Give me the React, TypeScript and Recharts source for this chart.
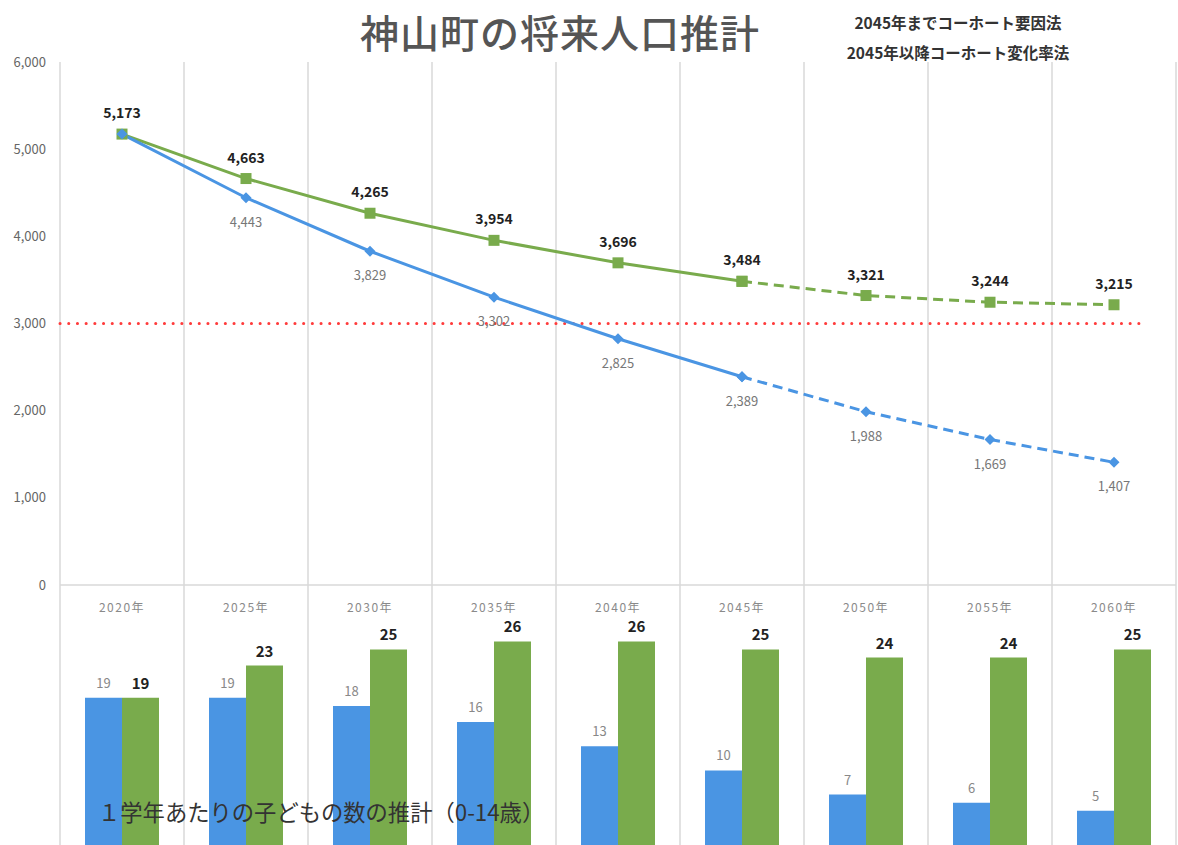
import React from 'react';
import {
  LineChart, Line, XAxis, YAxis, CartesianGrid, ReferenceLine, LabelList,
  BarChart, Bar,
} from 'recharts';

const years = ['2020年', '2025年', '2030年', '2035年', '2040年', '2045年', '2050年', '2055年', '2060年'];
const greenPop = [5173, 4663, 4265, 3954, 3696, 3484, 3321, 3244, 3215];
const bluePop = [5173, 4443, 3829, 3302, 2825, 2389, 1988, 1669, 1407];
const blueKids = [19, 19, 18, 16, 13, 10, 7, 6, 5];
const greenKids = [19, 23, 25, 26, 26, 25, 24, 24, 25];
const yTicks = [0, 1000, 2000, 3000, 4000, 5000, 6000];
const thresholdValue = 3000;
const splitIndex = 5; // 2045

const BLUE = '#4a95e3';
const GREEN = '#79ab4c';
const GRID = '#d9d9d9';
const FONT = '"Noto Sans CJK JP", "Noto Sans", sans-serif';

const lineData = years.map((y, i) => ({
  year: y,
  pos: i + 0.5,
  green: greenPop[i],
  blue: bluePop[i],
  greenSolid: i <= splitIndex ? greenPop[i] : null,
  blueSolid: i <= splitIndex ? bluePop[i] : null,
  greenDash: i >= splitIndex ? greenPop[i] : null,
  blueDash: i >= splitIndex ? bluePop[i] : null,
}));

const barData = years.map((y, i) => ({ year: y, blue: blueKids[i], green: greenKids[i] }));

const fmt = (v: number) => v.toLocaleString('en-US');

const PLOT_W = 1116;
const HALF_BAND = PLOT_W / years.length / 2;

const bandLines = ({ offset }: any) => {
  const n = years.length;
  return Array.from({ length: n + 1 }, (_, i) => offset.left + (i * offset.width) / n);
};

const SquareDot = (props: any) => {
  const { cx, cy, value, index } = props;
  if (value == null || cy == null || cx == null) return <g key={`s${index}`} />;
  return <rect key={`s${index}`} x={cx - 5.5} y={cy - 5.5} width={11} height={11} fill={GREEN} />;
};

const DiamondDot = (props: any) => {
  const { cx, cy, value, index } = props;
  if (value == null || cy == null || cx == null) return <g key={`d${index}`} />;
  const r = 5.5;
  return (
    <polygon
      key={`d${index}`}
      points={`${cx},${cy - r} ${cx + r},${cy} ${cx},${cy + r} ${cx - r},${cy}`}
      fill={BLUE}
    />
  );
};

const GreenLabel = (props: any) => {
  const { x, y, value } = props;
  if (value == null) return null;
  return (
    <text x={x} y={y - 16} textAnchor="middle" fontSize={14} fontWeight={700} fill="#222" fontFamily={FONT}>
      {fmt(value)}
    </text>
  );
};

const BlueLabel = (props: any) => {
  const { x, y, value, index } = props;
  if (value == null || index === 0) return null;
  return (
    <text x={x} y={y + 29} textAnchor="middle" fontSize={13} fill="#777" fontFamily={FONT}>
      {fmt(value)}
    </text>
  );
};

const XTick = (props: any) => {
  const { x, y, payload } = props;
  return (
    <text x={x} y={y + 19} textAnchor="middle" fontSize={12} fill="#8a8a8a" fontFamily={FONT} letterSpacing={1.5}>
      {payload.value}
    </text>
  );
};

const GreenBarLabel = (props: any) => {
  const { x, y, width, value } = props;
  return (
    <text x={x + width / 2} y={y - 9} textAnchor="middle" fontSize={15} fontWeight={700} fill="#222" fontFamily={FONT}>
      {value}
    </text>
  );
};

const BlueBarLabel = (props: any) => {
  const { x, y, width, value } = props;
  return (
    <text x={x + width / 2} y={y - 10} textAnchor="middle" fontSize={13} fill="#888" fontFamily={FONT}>
      {value}
    </text>
  );
};

export default function App() {
  return (
    <div
      style={{
        position: 'absolute', left: 0, top: 0, width: 1178, height: 845,
        overflow: 'hidden', background: '#fff', fontFamily: FONT,
      }}
    >
      <div style={{ position: 'absolute', left: 0, top: 0 }}>
        <LineChart width={1178} height={620} data={lineData} margin={{ top: 62, right: 2, left: 0, bottom: 0 }}>
          <CartesianGrid horizontal={false} stroke={GRID} strokeWidth={1.5} verticalCoordinatesGenerator={bandLines} />
          <XAxis
            dataKey="year"
            height={35}
            axisLine={false}
            tickLine={false}
            tick={<XTick />}
            interval={0}
            padding={{ left: HALF_BAND, right: HALF_BAND }}
          />
          <XAxis xAxisId="band" dataKey="pos" type="number" domain={[0, years.length]} allowDataOverflow hide />
          <YAxis
            width={60}
            domain={[0, 6000]}
            ticks={yTicks}
            tickFormatter={fmt}
            axisLine={false}
            tickLine={false}
            tickSize={0}
            tickMargin={14}
            tick={{ fontSize: 13, fill: '#666', fontFamily: FONT }}
          />
          <ReferenceLine y={0} stroke={GRID} strokeWidth={1.5} />
          <ReferenceLine
            xAxisId="band"
            segment={[{ x: 0, y: thresholdValue }, { x: 8.75, y: thresholdValue }]}
            stroke="#ff3b3b"
            strokeWidth={3}
            strokeDasharray="0.1 8.6"
            strokeLinecap="round"
            ifOverflow="visible"
          />
          <Line dataKey="greenDash" stroke={GREEN} strokeWidth={3} strokeDasharray="10 6" dot={<SquareDot />} isAnimationActive={false} connectNulls={false} />
          <Line dataKey="blueDash" stroke={BLUE} strokeWidth={3} strokeDasharray="10 6" dot={<DiamondDot />} isAnimationActive={false} connectNulls={false} />
          <Line dataKey="greenSolid" stroke={GREEN} strokeWidth={3} dot={<SquareDot />} isAnimationActive={false} connectNulls={false} />
          <Line dataKey="blueSolid" stroke={BLUE} strokeWidth={3} dot={<DiamondDot />} isAnimationActive={false} connectNulls={false} />
          <Line dataKey="blue" stroke="none" dot={false} activeDot={false} isAnimationActive={false}>
            <LabelList dataKey="blue" content={<BlueLabel />} />
          </Line>
          <Line dataKey="green" stroke="none" dot={false} activeDot={false} isAnimationActive={false}>
            <LabelList dataKey="green" content={<GreenLabel />} />
          </Line>
        </LineChart>
      </div>

      <div style={{ position: 'absolute', left: 0, top: 585 }}>
        <BarChart width={1178} height={266} data={barData} margin={{ top: 0, right: 2, left: 60, bottom: 0 }} barCategoryGap={25} barGap={0}>
          <CartesianGrid horizontal={false} stroke={GRID} strokeWidth={1.5} verticalCoordinatesGenerator={bandLines} />
          <XAxis dataKey="year" hide />
          <YAxis hide domain={[0, 33]} />
          <Bar dataKey="blue" fill={BLUE} isAnimationActive={false}>
            <LabelList dataKey="blue" content={<BlueBarLabel />} />
          </Bar>
          <Bar dataKey="green" fill={GREEN} isAnimationActive={false}>
            <LabelList dataKey="green" content={<GreenBarLabel />} />
          </Bar>
        </BarChart>
      </div>

      <div
        style={{
          position: 'absolute', left: 0, width: 1120, top: 6, textAlign: 'center',
          fontSize: 39, fontWeight: 500, color: '#555', letterSpacing: 1, lineHeight: '50px',
        }}
      >
        神山町の将来人口推計
      </div>
      <div
        style={{
          position: 'absolute', left: 820, width: 276, top: 7, textAlign: 'center',
          fontSize: 15.5, fontWeight: 700, color: '#333', lineHeight: '30px',
        }}
      >
        <div>2045年までコーホート要因法</div>
        <div>2045年以降コーホート変化率法</div>
      </div>
      <div
        style={{
          position: 'absolute', left: 98, top: 796, fontSize: 22.3, color: '#333', lineHeight: '30px',
          whiteSpace: 'nowrap',
        }}
      >
        １学年あたりの子どもの数の推計（0-14歳）
      </div>
    </div>
  );
}
